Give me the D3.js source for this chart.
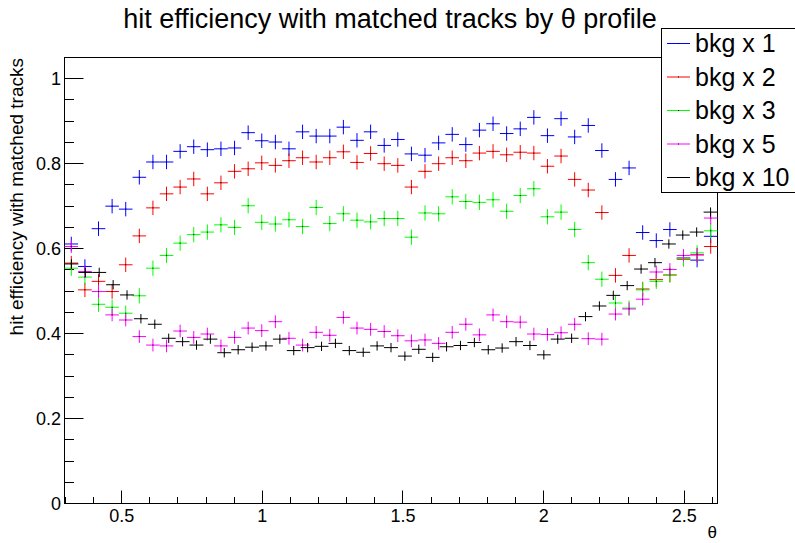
<!DOCTYPE html>
<html>
<head>
<meta charset="utf-8">
<script src="https://cdn.jsdelivr.net/npm/d3@7"></script>
<style>
  body { margin: 0; background: #fff; }
  svg { display: block; font-family: "Liberation Sans", Arial, Helvetica, sans-serif; }
</style>
</head>
<body>
<svg id="chart" width="795" height="543"></svg>
<script>
// theta binning: 17 deg .. 150 deg
var thetaMin = Math.PI * 17 / 180;
var thetaMax = Math.PI * 150 / 180;

var seriesNames = ["bkg x 1", "bkg x 2", "bkg x 3", "bkg x 5", "bkg x 10"];
var seriesColors = ["#0000ff", "#ff0000", "#00ff00", "#ff00ff", "#000000"];
var seriesBins = [48, 48, 48, 48, 47];
var seriesErrors = [0.017, 0.017, 0.018, 0.015, 0.011];

var bkg1 = [0.611, 0.558, 0.647, 0.700, 0.693, 0.768, 0.804, 0.804, 0.829, 0.840, 0.833, 0.835,
  0.837, 0.873, 0.854, 0.851, 0.835, 0.875, 0.865, 0.865, 0.886, 0.855, 0.875, 0.843,
  0.857, 0.823, 0.820, 0.849, 0.869, 0.845, 0.879, 0.894, 0.871, 0.882, 0.909, 0.866,
  0.906, 0.863, 0.890, 0.831, 0.763, 0.790, 0.638, 0.619, 0.645, 0.578, 0.573, 0.629];
var bkg2 = [0.566, 0.503, 0.523, 0.499, 0.562, 0.630, 0.696, 0.729, 0.745, 0.764, 0.729, 0.755,
  0.782, 0.788, 0.802, 0.796, 0.807, 0.814, 0.804, 0.814, 0.828, 0.803, 0.824, 0.800,
  0.796, 0.745, 0.782, 0.800, 0.814, 0.807, 0.825, 0.829, 0.821, 0.827, 0.825, 0.794,
  0.818, 0.763, 0.738, 0.685, 0.537, 0.584, 0.505, 0.527, 0.538, 0.575, 0.585, 0.605];
var bkg3 = [0.554, 0.533, 0.469, 0.462, 0.448, 0.489, 0.554, 0.584, 0.613, 0.633, 0.639, 0.656,
  0.650, 0.701, 0.662, 0.658, 0.668, 0.652, 0.697, 0.659, 0.682, 0.667, 0.663, 0.671,
  0.671, 0.627, 0.684, 0.682, 0.722, 0.711, 0.709, 0.715, 0.688, 0.725, 0.741, 0.675,
  0.686, 0.645, 0.567, 0.528, 0.472, 0.460, 0.503, 0.523, 0.538, 0.577, 0.590, 0.642];
var bkg5 = [0.605, 0.546, 0.499, 0.444, 0.432, 0.393, 0.373, 0.371, 0.406, 0.391, 0.399, 0.371,
  0.391, 0.413, 0.407, 0.428, 0.389, 0.373, 0.403, 0.396, 0.438, 0.413, 0.410, 0.405,
  0.395, 0.383, 0.385, 0.377, 0.403, 0.422, 0.397, 0.444, 0.428, 0.427, 0.399, 0.398,
  0.402, 0.422, 0.388, 0.387, 0.446, 0.458, 0.481, 0.545, 0.551, 0.584, 0.586, 0.672];
var bkg10 = [0.564, 0.544, 0.544, 0.515, 0.491, 0.435, 0.422, 0.389, 0.381, 0.373, 0.387, 0.355,
  0.362, 0.368, 0.371, 0.387, 0.360, 0.367, 0.370, 0.377, 0.360, 0.356, 0.371, 0.367,
  0.347, 0.363, 0.344, 0.369, 0.372, 0.379, 0.362, 0.366, 0.381, 0.372, 0.350, 0.387,
  0.389, 0.440, 0.465, 0.490, 0.513, 0.552, 0.567, 0.611, 0.632, 0.639, 0.686];
var seriesValues = [bkg1, bkg2, bkg3, bkg5, bkg10];

var yTicks = [0, 0.2, 0.4, 0.6, 0.8, 1];
var xTicks = [0.5, 1, 1.5, 2, 2.5];

var svg = d3.select("#chart");
var frame = { left: 64.5, right: 717.5, top: 57.5, bottom: 503.5 };

var x = d3.scaleLinear().domain([thetaMin, thetaMax]).range([frame.left, frame.right]);
var y = d3.scaleLinear().domain([0, 1.05]).range([frame.bottom, frame.top]);

// title
svg.append("text")
    .attr("x", 390).attr("y", 28)
    .attr("text-anchor", "middle")
    .style("font-size", "27px")
    .text("hit efficiency with matched tracks by \u03b8 profile");

// frame
svg.append("rect")
    .attr("x", frame.left).attr("y", frame.top)
    .attr("width", frame.right - frame.left).attr("height", frame.bottom - frame.top)
    .attr("fill", "none").attr("stroke", "#000").attr("stroke-width", 1);

// y axis ticks
var yMinor = d3.range(0, 1.0501, 0.05);
svg.append("g").selectAll("line").data(yMinor).enter().append("line")
    .attr("x1", frame.left)
    .attr("x2", function (d) { return frame.left + (Math.abs(d * 5 - Math.round(d * 5)) < 1e-6 ? 19 : 9.5); })
    .attr("y1", function (d) { return Math.round(y(d) - 0.5) + 0.5; })
    .attr("y2", function (d) { return Math.round(y(d) - 0.5) + 0.5; })
    .attr("stroke", "#000");
svg.append("g").selectAll("text").data(yTicks).enter().append("text")
    .attr("x", 61).attr("y", function (d) { return y(d) + 6.5; })
    .attr("text-anchor", "end")
    .style("font-size", "18px")
    .text(function (d) { return d3.format("~g")(d); });

// x axis ticks
var xMinor = d3.range(3, 27).map(function (k) { return k / 10; });
svg.append("g").selectAll("line").data(xMinor).enter().append("line")
    .attr("x1", function (d) { return Math.round(x(d) - 0.5) + 0.5; })
    .attr("x2", function (d) { return Math.round(x(d) - 0.5) + 0.5; })
    .attr("y1", frame.bottom)
    .attr("y2", function (d) { return frame.bottom - (d * 10 % 5 === 0 ? 13 : 6.5); })
    .attr("stroke", "#000");
svg.append("g").selectAll("text").data(xTicks).enter().append("text")
    .attr("x", function (d) { return x(d); }).attr("y", 522)
    .attr("text-anchor", "middle")
    .style("font-size", "18px")
    .text(function (d) { return d3.format("~g")(d); });

// axis titles
svg.append("text")
    .attr("x", 717).attr("y", 538)
    .attr("text-anchor", "end")
    .style("font-size", "17px")
    .text("\u03b8");
svg.append("text")
    .attr("transform", "translate(23,58) rotate(-90)")
    .attr("text-anchor", "end")
    .style("font-size", "19px")
    .text("hit efficiency with matched tracks");

// profile points
var plot = svg.append("g");
seriesValues.forEach(function (vals, s) {
    var nb = seriesBins[s];
    var bw = (thetaMax - thetaMin) / nb;
    var err = seriesErrors[s];
    var pts = vals.map(function (v, i) { return { lo: thetaMin + i * bw, hi: thetaMin + (i + 1) * bw, c: thetaMin + (i + 0.5) * bw, v: v }; });
    var g = plot.append("g").attr("stroke", seriesColors[s]).attr("stroke-width", 1);
    g.selectAll("line.h").data(pts).enter().append("line").attr("class", "h")
        .attr("x1", function (d) { return x(d.lo); })
        .attr("x2", function (d) { return x(d.hi); })
        .attr("y1", function (d) { return y(d.v); })
        .attr("y2", function (d) { return y(d.v); });
    g.selectAll("line.v").data(pts).enter().append("line").attr("class", "v")
        .attr("x1", function (d) { return x(d.c); })
        .attr("x2", function (d) { return x(d.c); })
        .attr("y1", function (d) { return y(d.v - err); })
        .attr("y2", function (d) { return y(d.v + err); });
    plot.append("g").selectAll("rect").data(pts).enter().append("rect")
        .attr("x", function (d) { return x(d.c) - 0.5; })
        .attr("y", function (d) { return y(d.v) - 0.5; })
        .attr("width", 1).attr("height", 1)
        .attr("fill", "#000");
});

// legend
var legend = svg.append("g");
legend.append("rect")
    .attr("x", 661.5).attr("y", 28.5).attr("width", 140).attr("height", 164)
    .attr("fill", "#fff").attr("stroke", "#000");
seriesNames.forEach(function (name, s) {
    var cy = 43.5 + s * 33.5;
    legend.append("line")
        .attr("x1", 667).attr("x2", 690).attr("y1", cy).attr("y2", cy)
        .attr("stroke", seriesColors[s]);
    legend.append("rect").attr("x", 678).attr("y", cy - 0.5).attr("width", 1).attr("height", 1).attr("fill", "#000");
    legend.append("text")
        .attr("x", 695).attr("y", cy + 8.5)
        .style("font-size", "25px")
        .text(name);
});
</script>
</body>
</html>
